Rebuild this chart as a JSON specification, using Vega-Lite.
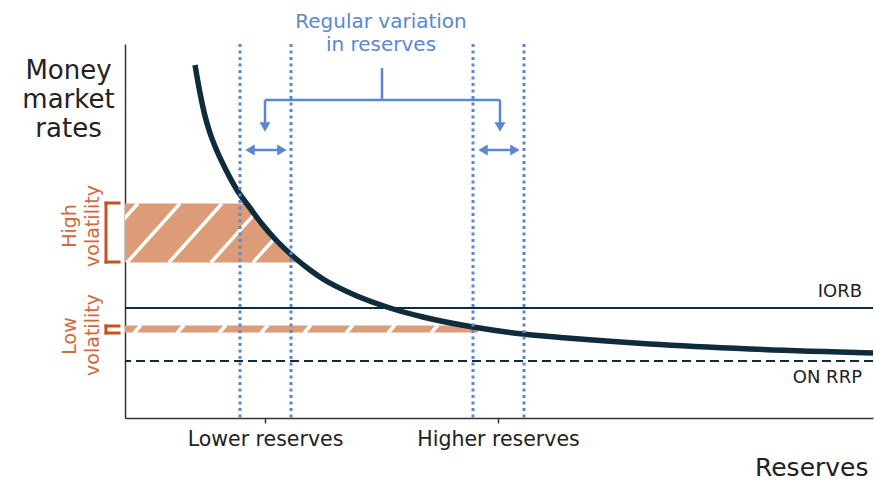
{
  "$schema": "https://vega.github.io/schema/vega-lite/v6.json",
  "width": 748,
  "height": 374,
  "autosize": {"type": "none"},
  "padding": {"left": 125, "top": 44, "right": 1, "bottom": 62},
  "background": "white",
  "config": {"view": {"stroke": null}, "font": "DejaVu Sans", "axis": {"grid": false}},
  "resolve": {"axis": {"x": "independent", "y": "independent"}},
  "datasets": {
    "highBand": [
      {"rate": 214.5, "reserves": 121},
      {"rate": 194, "reserves": 137},
      {"rate": 179, "reserves": 150},
      {"rate": 155.5, "reserves": 174}
    ],
    "lowBand": [
      {"rate": 85.5, "rate2": 92.5, "reserves": 0, "reserves2": 353}
    ],
    "stripes": [
      {"reserves": -40, "rate": 155.5, "reserves2": 13, "rate2": 214.5, "band": "high"},
      {"reserves": 2, "rate": 155.5, "reserves2": 55, "rate2": 214.5, "band": "high"},
      {"reserves": 44, "rate": 155.5, "reserves2": 97, "rate2": 214.5, "band": "high"},
      {"reserves": 86, "rate": 155.5, "reserves2": 139, "rate2": 214.5, "band": "high"},
      {"reserves": 128, "rate": 155.5, "reserves2": 181, "rate2": 214.5, "band": "high"},
      {"reserves": 9, "rate": 85, "reserves2": 16, "rate2": 93, "band": "low"},
      {"reserves": 52, "rate": 85, "reserves2": 59, "rate2": 93, "band": "low"},
      {"reserves": 94, "rate": 85, "reserves2": 101, "rate2": 93, "band": "low"},
      {"reserves": 136, "rate": 85, "reserves2": 143, "rate2": 93, "band": "low"},
      {"reserves": 179, "rate": 85, "reserves2": 186, "rate2": 93, "band": "low"},
      {"reserves": 221, "rate": 85, "reserves2": 228, "rate2": 93, "band": "low"},
      {"reserves": 263, "rate": 85, "reserves2": 270, "rate2": 93, "band": "low"},
      {"reserves": 306, "rate": 85, "reserves2": 313, "rate2": 93, "band": "low"}
    ],
    "policyRates": [
      {"name": "IORB", "rate": 110},
      {"name": "ON RRP", "rate": 57}
    ],
    "demandCurve": [
      {"reserves": 70, "rate": 353},
      {"reserves": 75, "rate": 325},
      {"reserves": 80, "rate": 302},
      {"reserves": 85, "rate": 285},
      {"reserves": 92, "rate": 267},
      {"reserves": 101, "rate": 248},
      {"reserves": 112, "rate": 228},
      {"reserves": 125, "rate": 210},
      {"reserves": 137, "rate": 194},
      {"reserves": 150, "rate": 179},
      {"reserves": 170, "rate": 160},
      {"reserves": 185, "rate": 148},
      {"reserves": 198, "rate": 139},
      {"reserves": 232, "rate": 122},
      {"reserves": 265, "rate": 110},
      {"reserves": 298, "rate": 101},
      {"reserves": 348, "rate": 91},
      {"reserves": 398, "rate": 84},
      {"reserves": 442, "rate": 80},
      {"reserves": 525, "rate": 74},
      {"reserves": 625, "rate": 69},
      {"reserves": 748, "rate": 65}
    ],
    "reserveLevels": [
      {"reserves": 115}, {"reserves": 166}, {"reserves": 348}, {"reserves": 399}
    ],
    "bracket": [
      {"reserves": 257, "rate": 350, "reserves2": 257, "rate2": 318},
      {"reserves": 140, "rate": 318, "reserves2": 375, "rate2": 318},
      {"reserves": 140, "rate": 318, "reserves2": 140, "rate2": 294},
      {"reserves": 375, "rate": 318, "reserves2": 375, "rate2": 294},
      {"reserves": 123, "rate": 268, "reserves2": 159, "rate2": 268},
      {"reserves": 356, "rate": 268, "reserves2": 392, "rate2": 268}
    ],
    "arrowheads": [
      {"reserves": 140, "rate": 291, "dir": "down"},
      {"reserves": 375, "rate": 291, "dir": "down"},
      {"reserves": 125, "rate": 268, "dir": "left"},
      {"reserves": 157, "rate": 268, "dir": "right"},
      {"reserves": 358, "rate": 268, "dir": "left"},
      {"reserves": 390, "rate": 268, "dir": "right"}
    ],
    "volBrackets": [
      {"reserves": -19, "rate": 215, "reserves2": -19, "rate2": 156},
      {"reserves": -19, "rate": 215, "reserves2": -6, "rate2": 215},
      {"reserves": -19, "rate": 156, "reserves2": -6, "rate2": 156},
      {"reserves": -19, "rate": 92, "reserves2": -19, "rate2": 85},
      {"reserves": -19, "rate": 92, "reserves2": -6, "rate2": 92},
      {"reserves": -19, "rate": 85, "reserves2": -6, "rate2": 85}
    ],
    "volLabels": [
      {"label": "High", "reserves": -55, "rate": 192},
      {"label": "volatility", "reserves": -32, "rate": 192},
      {"label": "Low", "reserves": -55, "rate": 82},
      {"label": "volatility", "reserves": -32, "rate": 83}
    ],
    "rateLabels": [
      {"label": "IORB", "reserves": 737, "rate": 126},
      {"label": "ON RRP", "reserves": 737, "rate": 40}
    ],
    "variationLabel": [
      {"label": "Regular variation", "reserves": 256, "rate": 396},
      {"label": "in reserves", "reserves": 256, "rate": 373}
    ]
  },
  "layer": [
    {
      "data": {"name": "highBand"},
      "mark": {"type": "area", "orient": "horizontal", "color": "#dc9c78"},
      "encoding": {
        "y": {
          "field": "rate", "type": "quantitative",
          "scale": {"domain": [0, 374], "nice": false, "zero": false},
          "axis": {
            "ticks": false, "labels": false, "domainColor": "#333", "domainWidth": 1.5,
            "title": ["Money", "market", "rates"], "titleAngle": 0, "titleFontSize": 26,
            "titleFontWeight": "normal", "titleColor": "#222", "titleAlign": "center",
            "titleBaseline": "middle", "titleX": -57, "titleY": 26, "titleLineHeight": 29
          }
        },
        "x": {
          "field": "reserves", "type": "quantitative",
          "scale": {"domain": [0, 748], "nice": false, "zero": false},
          "axis": {
            "values": [140, 373],
            "labelExpr": "datum.value < 200 ? 'Lower reserves' : 'Higher reserves'",
            "labelFontSize": 20.5, "labelColor": "#222", "labelPadding": 6,
            "labelFlush": false, "labelOverlap": false,
            "tickSize": 5, "tickColor": "#333", "tickWidth": 1.5,
            "domainColor": "#333", "domainWidth": 1.5,
            "title": "Reserves", "titleFontSize": 25, "titleFontWeight": "normal",
            "titleColor": "#222", "titleAlign": "right", "titleAnchor": "end",
            "titleX": 743, "titleY": 49, "titleBaseline": "middle"
          }
        },
        "x2": {"datum": 0}
      }
    },
    {
      "data": {"name": "lowBand"},
      "mark": {"type": "rect", "color": "#dc9c78"},
      "encoding": {
        "x": {"field": "reserves", "type": "quantitative", "scale": {"domain": [0, 748], "nice": false, "zero": false}, "axis": null},
        "x2": {"field": "reserves2"},
        "y": {"field": "rate", "type": "quantitative", "scale": {"domain": [0, 374], "nice": false, "zero": false}, "axis": null},
        "y2": {"field": "rate2"}
      }
    },
    {
      "data": {"name": "stripes"},
      "mark": {"type": "rule", "color": "white", "strokeWidth": 3.5, "clip": true},
      "encoding": {
        "x": {"field": "reserves", "type": "quantitative", "scale": {"domain": [0, 748], "nice": false, "zero": false}, "axis": null},
        "x2": {"field": "reserves2"},
        "y": {"field": "rate", "type": "quantitative", "scale": {"domain": [0, 374], "nice": false, "zero": false}, "axis": null},
        "y2": {"field": "rate2"}
      }
    },
    {
      "data": {"name": "policyRates"},
      "transform": [{"filter": "datum.name === 'IORB'"}],
      "mark": {"type": "rule", "color": "#0e2c3b", "strokeWidth": 2},
      "encoding": {
        "y": {"field": "rate", "type": "quantitative", "scale": {"domain": [0, 374], "nice": false, "zero": false}, "axis": null}
      }
    },
    {
      "data": {"name": "policyRates"},
      "transform": [{"filter": "datum.name === 'ON RRP'"}],
      "mark": {"type": "rule", "color": "#0e2c3b", "strokeWidth": 2, "strokeDash": [9, 5]},
      "encoding": {
        "y": {"field": "rate", "type": "quantitative", "scale": {"domain": [0, 374], "nice": false, "zero": false}, "axis": null}
      }
    },
    {
      "data": {"name": "demandCurve"},
      "mark": {"type": "line", "color": "#0e2c3b", "strokeWidth": 5.5, "interpolate": "monotone", "strokeCap": "butt"},
      "encoding": {
        "x": {"field": "reserves", "type": "quantitative", "scale": {"domain": [0, 748], "nice": false, "zero": false}, "axis": null},
        "y": {"field": "rate", "type": "quantitative", "scale": {"domain": [0, 374], "nice": false, "zero": false}, "axis": null}
      }
    },
    {
      "data": {"name": "reserveLevels"},
      "mark": {"type": "rule", "color": "#5b87cf", "strokeWidth": 3, "strokeDash": [3, 3.5]},
      "encoding": {
        "x": {"field": "reserves", "type": "quantitative", "scale": {"domain": [0, 748], "nice": false, "zero": false}, "axis": null}
      }
    },
    {
      "data": {"name": "bracket"},
      "mark": {"type": "rule", "color": "#5b87cf", "strokeWidth": 2.5},
      "encoding": {
        "x": {"field": "reserves", "type": "quantitative", "scale": {"domain": [0, 748], "nice": false, "zero": false}, "axis": null},
        "x2": {"field": "reserves2"},
        "y": {"field": "rate", "type": "quantitative", "scale": {"domain": [0, 374], "nice": false, "zero": false}, "axis": null},
        "y2": {"field": "rate2"}
      }
    },
    {
      "data": {"name": "arrowheads"},
      "mark": {"type": "point", "filled": true, "color": "#5b87cf", "size": 120, "opacity": 1},
      "encoding": {
        "x": {"field": "reserves", "type": "quantitative", "scale": {"domain": [0, 748], "nice": false, "zero": false}, "axis": null},
        "y": {"field": "rate", "type": "quantitative", "scale": {"domain": [0, 374], "nice": false, "zero": false}, "axis": null},
        "shape": {"field": "dir", "type": "nominal", "scale": {"domain": ["down", "left", "right"], "range": ["triangle-down", "triangle-left", "triangle-right"]}, "legend": null}
      }
    },
    {
      "data": {"name": "volBrackets"},
      "mark": {"type": "rule", "color": "#c4531f", "strokeWidth": 3, "strokeCap": "square"},
      "encoding": {
        "x": {"field": "reserves", "type": "quantitative", "scale": {"domain": [0, 748], "nice": false, "zero": false}, "axis": null},
        "x2": {"field": "reserves2"},
        "y": {"field": "rate", "type": "quantitative", "scale": {"domain": [0, 374], "nice": false, "zero": false}, "axis": null},
        "y2": {"field": "rate2"}
      }
    },
    {
      "data": {"name": "volLabels"},
      "mark": {"type": "text", "angle": 270, "align": "center", "baseline": "middle", "fontSize": 19, "color": "#d06a3e", "font": "DejaVu Sans"},
      "encoding": {
        "x": {"field": "reserves", "type": "quantitative", "scale": {"domain": [0, 748], "nice": false, "zero": false}, "axis": null},
        "y": {"field": "rate", "type": "quantitative", "scale": {"domain": [0, 374], "nice": false, "zero": false}, "axis": null},
        "text": {"field": "label"}
      }
    },
    {
      "data": {"name": "rateLabels"},
      "mark": {"type": "text", "align": "right", "baseline": "middle", "fontSize": 18, "color": "#222", "font": "DejaVu Sans"},
      "encoding": {
        "x": {"field": "reserves", "type": "quantitative", "scale": {"domain": [0, 748], "nice": false, "zero": false}, "axis": null},
        "y": {"field": "rate", "type": "quantitative", "scale": {"domain": [0, 374], "nice": false, "zero": false}, "axis": null},
        "text": {"field": "label"}
      }
    },
    {
      "data": {"name": "variationLabel"},
      "mark": {"type": "text", "align": "center", "baseline": "middle", "fontSize": 20, "color": "#5b87cf", "font": "DejaVu Sans"},
      "encoding": {
        "x": {"field": "reserves", "type": "quantitative", "scale": {"domain": [0, 748], "nice": false, "zero": false}, "axis": null},
        "y": {"field": "rate", "type": "quantitative", "scale": {"domain": [0, 374], "nice": false, "zero": false}, "axis": null},
        "text": {"field": "label"}
      }
    }
  ]
}
